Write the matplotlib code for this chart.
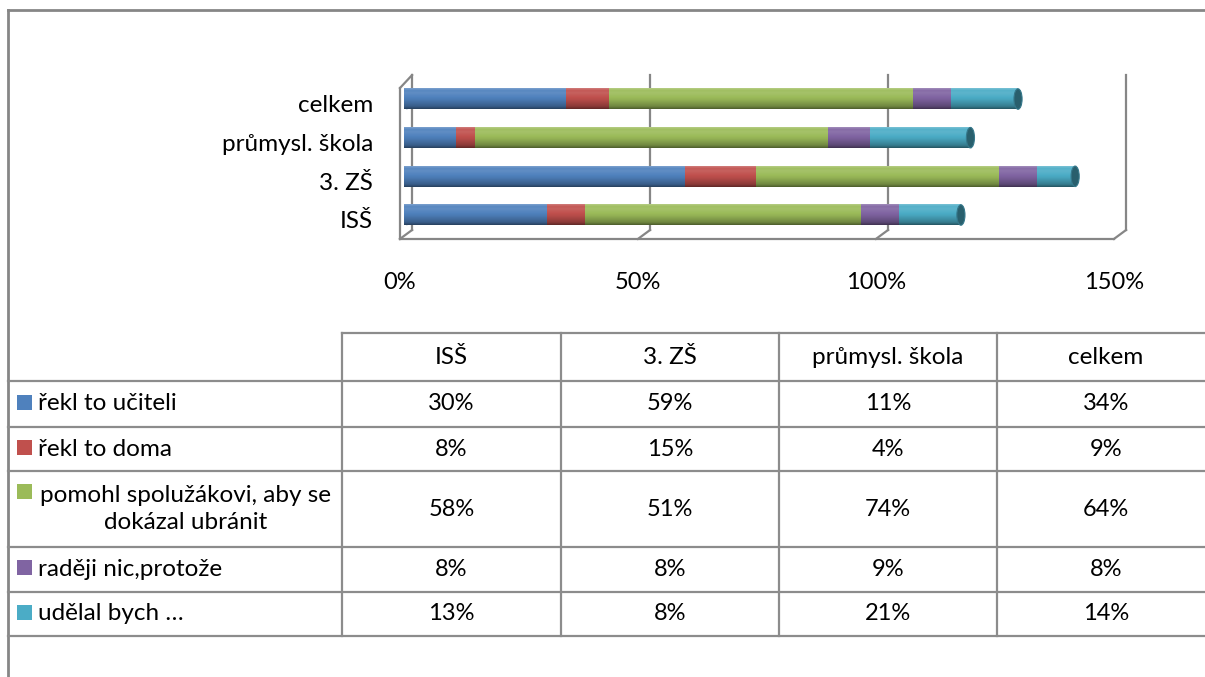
import numpy as np
import matplotlib.pyplot as plt
from matplotlib.colors import to_rgb
from matplotlib.patches import Ellipse, Rectangle

plt.rcParams['font.family'] = ['Lato', 'DejaVu Sans']

# data
schools = ['ISŠ', '3. ZŠ', 'průmysl. škola', 'celkem']
answers = ['řekl to učiteli', 'řekl to doma',
           'pomohl spolužákovi, aby se\ndokázal ubránit',
           'raději nic,protože', 'udělal bych …']
colors = ['#4F81BD', '#C0504D', '#9BBB59', '#8064A2', '#4BACC6']
ucitel = [30, 59, 11, 34]
doma = [8, 15, 4, 9]
pomohl = [58, 51, 74, 64]
nic = [8, 8, 9, 8]
udelal = [13, 8, 21, 14]
series = [ucitel, doma, pomohl, nic, udelal]
ticks = [0, 50, 100, 150]

W, H = 1205, 677
fig = plt.figure(figsize=(W / 100, H / 100), dpi=100)

# chart area (pixel layout)
x0, x150 = 404, 1118
ytop, ybot = 79.7, 234.3
ax = fig.add_axes([x0 / W, 1 - ybot / H, (x150 - x0) / W, (ybot - ytop) / H])


def shade(c, f):
    c = np.array(to_rgb(c))
    if f >= 1:
        return c + (1 - c) * (f - 1)
    return c * f


# cylinder shading across the bar height (bottom -> top)
prof_t = [0, 0.12, 0.45, 0.78, 0.9, 1.0]
prof_f = [0.5, 0.72, 0.95, 1.1, 1.05, 1.25]
tt = np.linspace(0, 1, 40)
ff = np.interp(tt, prof_t, prof_f)

h = 0.53
cap_w = 1.7
for i, school in enumerate(schools):
    left = 0
    for j, s in enumerate(series):
        img = np.array([[shade(colors[j], f)] for f in ff])
        ax.imshow(img, extent=[left, left + s[i], i - h / 2, i + h / 2],
                  origin='lower', aspect='auto', interpolation='bilinear', zorder=2)
        left += s[i]
    ax.add_patch(Ellipse((0.6, i), cap_w, h, facecolor=shade(colors[0], 0.85),
                         edgecolor='none', zorder=1))
    ax.add_patch(Ellipse((left, i), cap_w, h, facecolor=shade(colors[-1], 0.55),
                         edgecolor=shade(colors[-1], 0.7), lw=0.8, zorder=3))
    ax.text(-6.5, i - 0.18, school, ha='right', va='center', fontsize=17.5)

ax.set_xlim(0, 150)
ax.set_ylim(-0.5, 3.5)
ax.axis('off')

# 3D walls
gc = '#868686'
tr = ax.get_xaxis_transform()
fr, bk = -0.85, 1.7
y_ft, y_fb, y_bb, y_bt = 0.946, -0.03, 0.028, 1.03
kw = dict(color=gc, lw=1.6, transform=tr, clip_on=False, zorder=0)
for v in ticks:
    ax.plot([v + bk, v + bk], [y_bb, y_bt], **kw)
    ax.plot([v + fr, v + bk], [y_fb, y_bb], **kw)
    ax.text(v + fr, -0.31, f'{v}%', ha='center', va='center', fontsize=17,
            transform=tr)
ax.plot([fr, fr], [y_fb, y_ft], **kw)
ax.plot([fr, bk], [y_ft, y_bt], **kw)
ax.plot([fr, ticks[-1] + fr], [y_fb, y_fb], **kw)

# data table + outer border in pixel coordinates
tab = fig.add_axes([0, 0, 1, 1], zorder=-1)
tab.set_xlim(0, W)
tab.set_ylim(H, 0)
tab.axis('off')

tab.plot([8, 8], [10, H], color=gc, lw=2)
tab.plot([8, W], [10, 10], color=gc, lw=2)

lc = '#8c8c8c'
col_x = [8, 342, 561, 779, 997, 1215]
row_y = [333, 381, 427, 471, 547, 592, 636]
tab.plot([col_x[1], W], [row_y[0], row_y[0]], color=lc, lw=1.6)
for y in row_y[1:]:
    tab.plot([col_x[0], W], [y, y], color=lc, lw=1.6)
for x in col_x[1:5]:
    tab.plot([x, x], [row_y[0], row_y[-1]], color=lc, lw=1.6)

for k, school in enumerate(schools):
    cx = (col_x[k + 1] + col_x[k + 2]) / 2
    tab.text(cx, (row_y[0] + row_y[1]) / 2, school, ha='center', va='center',
             fontsize=17.5)
for j, (ans, s) in enumerate(zip(answers, series)):
    cy = (row_y[j + 1] + row_y[j + 2]) / 2
    if '\n' in ans:
        tab.text(186, cy, ans, ha='center', va='center', fontsize=17.5,
                 multialignment='center', linespacing=1.3)
        ky = cy - 18
    else:
        tab.text(38, cy, ans, ha='left', va='center', fontsize=17.5)
        ky = cy - 2
    tab.add_patch(Rectangle((17, ky - 7.5), 15, 15, facecolor=colors[j],
                            edgecolor='none'))
    for k in range(len(schools)):
        cx = (col_x[k + 1] + col_x[k + 2]) / 2
        tab.text(cx, cy, f'{s[k]}%', ha='center', va='center', fontsize=17)

fig.savefig('out.png', dpi=100, facecolor='white')
